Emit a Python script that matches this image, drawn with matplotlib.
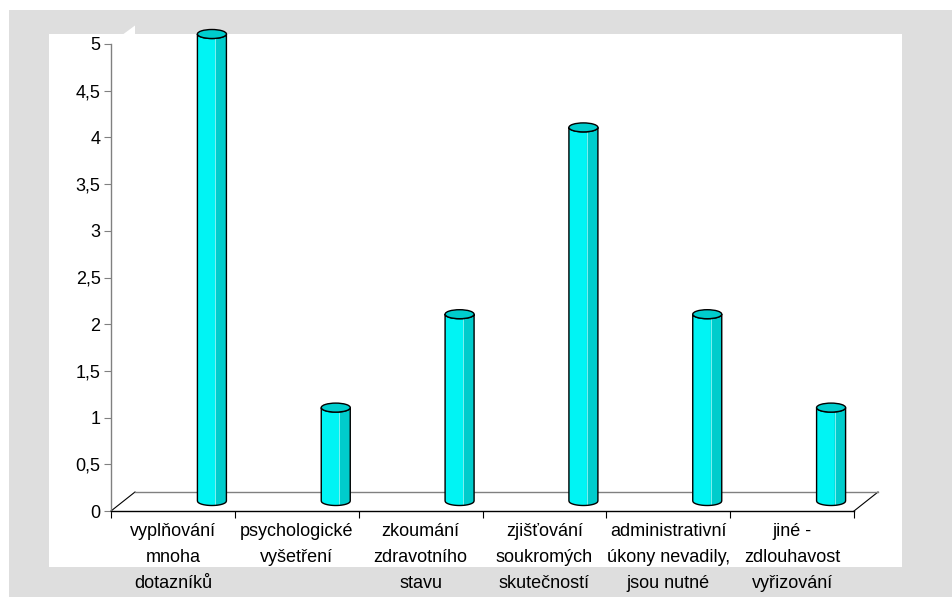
import numpy as np
import matplotlib
matplotlib.use("Agg")
import matplotlib.pyplot as plt
from matplotlib.patches import Rectangle, Polygon, Ellipse
from matplotlib.lines import Line2D

# --- data -------------------------------------------------------------
categories = [
    "vyplňování\nmnoha\ndotazníků",
    "psychologické\nvyšetření",
    "zkoumání\nzdravotního\nstavu",
    "zjišťování\nsoukromých\nskutečností",
    "administrativní\núkony nevadily,\njsou nutné",
    "jiné -\nzdlouhavost\nvyřizování",
]
values = [5, 1, 2, 4, 2, 1]
y_ticks = [0, 0.5, 1, 1.5, 2, 2.5, 3, 3.5, 4, 4.5, 5]
y_tick_labels = ["0", "0,5", "1", "1,5", "2", "2,5", "3", "3,5", "4", "4,5", "5"]

plt.rcParams["font.family"] = ["Liberation Sans", "DejaVu Sans"]

W, H = 952, 597
fig = plt.figure(figsize=(W / 100, H / 100), dpi=100)
fig.patch.set_facecolor("white")


def fig_rect(x0, y0, x1, y1, color):
    # rectangle given in pixel coords measured from the top-left corner
    fig.patches.append(Rectangle((x0 / W, 1 - y1 / H), (x1 - x0) / W, (y1 - y0) / H,
                                 transform=fig.transFigure, facecolor=color,
                                 edgecolor="none", zorder=-10))


GRAY = "#dedede"
fig_rect(9, 10, W, H, GRAY)          # chart area
fig_rect(49, 34, 902, 567, "white")  # plot area
# top corner of the back wall poking above the plot area
fig.patches.append(Polygon([(123.5 / W, 1 - 34 / H), (135 / W, 1 - 25.5 / H), (135 / W, 1 - 34 / H)],
                           closed=True, transform=fig.transFigure, facecolor="white",
                           edgecolor="none", zorder=-10))

# axes: x from 0..6 (category slots), y from 0..5
ax_l, ax_r, ax_b, ax_t = 111, 854, 511, 44
ax = fig.add_axes([ax_l / W, 1 - ax_b / H, (ax_r - ax_l) / W, (ax_b - ax_t) / H])
ax.set_zorder(5)
ax.set_facecolor("none")
n = len(categories)
ax.set_xlim(0, n)
ax.set_ylim(0, 5)

px_x = (ax_r - ax_l) / n
px_y = (ax_b - ax_t) / 5.0

for s in ("top", "right"):
    ax.spines[s].set_visible(False)
ax.spines["left"].set_color("#808080")
ax.spines["left"].set_linewidth(1.0)
ax.spines["bottom"].set_color("black")
ax.spines["bottom"].set_linewidth(1.0)

ax.set_yticks(y_ticks, labels=y_tick_labels)
ax.tick_params(axis="y", direction="out", length=5.0, width=0.8, color="#808080",
               labelsize=13, pad=2.5)

ax.set_xticks(np.arange(n + 1))
ax.set_xticklabels([])
ax.tick_params(axis="x", which="major", direction="out", length=5.0, width=0.8, color="black")
ax.set_xticks(np.arange(n) + 0.5, labels=categories, minor=True)
ax.tick_params(axis="x", which="minor", length=0, pad=9, labelsize=13)
for lbl in ax.get_xticklabels(minor=True):
    lbl.set_linespacing(1.68)
    lbl.set_horizontalalignment("center")

# floor of the 3-D chart
dx, dy = 24 / px_x, 19 / px_y
ax.add_line(Line2D([0, dx], [0, dy], color="black", lw=0.8, clip_on=False))
ax.add_line(Line2D([n, n + dx], [0, dy], color="black", lw=0.8, clip_on=False))
ax.add_line(Line2D([dx, n + dx], [dy, dy], color="#808080", lw=1.0, clip_on=False))

# cylinder bars
LIGHT = "#00f4f4"
DARK = "#00cccc"
CAP = "#00cdcd"
off_x = 39 / px_x          # bar offset into the depth
base = 10 / px_y           # base raised by the depth offset
hw = 14.5 / px_x           # half width
eh = 4.5 / px_y            # half height of end ellipses


def lower_curve(c, y, xs):
    return y - eh * np.sqrt(np.clip(1 - ((xs - c) / hw) ** 2, 0, 1))


for i, v in enumerate(values):
    c = i + 0.5 + off_x
    top = v + base
    L, R = c - hw, c + hw
    xs = np.linspace(L, R, 60)
    bottom_pts = list(zip(xs, lower_curve(c, base, xs)))
    top_pts = list(zip(xs[::-1], lower_curve(c, top, xs[::-1])))
    body = [(L, top), (L, base)] + bottom_pts + [(R, base), (R, top)] + top_pts
    ax.add_patch(Polygon(body, closed=True, facecolor=LIGHT, edgecolor="none",
                         clip_on=False, zorder=3))
    S = L + 0.62 * (R - L)
    xs2 = np.linspace(S, R, 30)
    dark = list(zip(xs2, lower_curve(c, base, xs2))) + \
        list(zip(xs2[::-1], lower_curve(c, top, xs2[::-1])))
    ax.add_patch(Polygon(dark, closed=True, facecolor=DARK, edgecolor="none",
                         clip_on=False, zorder=3))
    ax.add_line(Line2D([S, S], [lower_curve(c, base, np.array([S]))[0],
                                lower_curve(c, top, np.array([S]))[0]],
                       color="#7ff0f0", lw=0.7, clip_on=False, zorder=3))
    ax.add_patch(Polygon(body, closed=True, facecolor="none", edgecolor="black",
                         lw=1.0, clip_on=False, zorder=4))
    ax.add_patch(Ellipse((c, top), 2 * hw, 2 * eh, facecolor=CAP, edgecolor="black",
                         lw=1.0, clip_on=False, zorder=5))

fig.savefig("out.png", dpi=100)
